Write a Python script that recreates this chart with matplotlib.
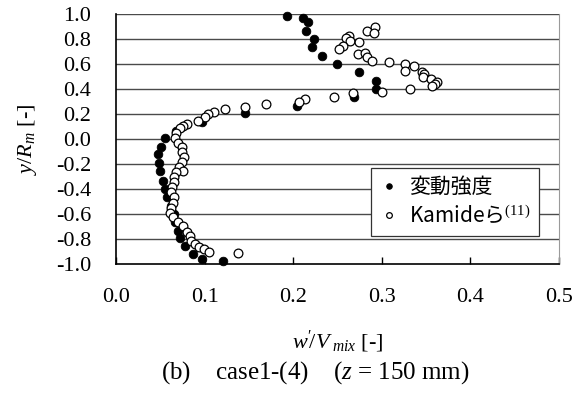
import matplotlib
matplotlib.use("Agg")
import matplotlib.pyplot as plt
from matplotlib.font_manager import FontProperties

plt.rcParams["font.family"] = ["Liberation Serif", "DejaVu Serif"]
plt.rcParams["mathtext.fontset"] = "custom"
plt.rcParams["mathtext.rm"] = "Liberation Serif"
plt.rcParams["mathtext.it"] = "Liberation Serif:italic"

# -- data: (w'/V_mix, y/R_m) --
fluct_x = [0.193, 0.211, 0.217, 0.214, 0.224, 0.221, 0.233, 0.249, 0.274, 0.293,
           0.293, 0.269, 0.204, 0.146, 0.097, 0.068, 0.055, 0.051, 0.047, 0.048,
           0.050, 0.053, 0.055, 0.058, 0.062, 0.065, 0.067, 0.070, 0.072, 0.078,
           0.087, 0.097, 0.121]
fluct_y = [0.99, 0.97, 0.94, 0.87, 0.80, 0.74, 0.67, 0.60, 0.54, 0.47,
           0.40, 0.34, 0.27, 0.21, 0.14, 0.07, 0.01, -0.06, -0.12, -0.19,
           -0.25, -0.33, -0.40, -0.46, -0.53, -0.60, -0.66, -0.73, -0.79, -0.85,
           -0.92, -0.96, -0.97]

kamide_x = [0.283, 0.292, 0.291, 0.263, 0.260, 0.264, 0.256, 0.252, 0.274, 0.273,
            0.281, 0.283, 0.289, 0.308, 0.326, 0.326, 0.336, 0.345, 0.348, 0.347,
            0.356, 0.362, 0.360, 0.357, 0.332, 0.300, 0.268, 0.246, 0.213, 0.207,
            0.169, 0.146, 0.123, 0.111, 0.104, 0.100, 0.093, 0.080, 0.076, 0.072,
            0.068, 0.067, 0.070, 0.074, 0.075, 0.077, 0.074, 0.071, 0.076, 0.068,
            0.066, 0.065, 0.063, 0.062, 0.065, 0.064, 0.062, 0.061, 0.064, 0.070,
            0.076, 0.080, 0.083, 0.085, 0.089, 0.094, 0.099, 0.105, 0.138]
kamide_y = [0.87, 0.90, 0.85, 0.83, 0.81, 0.79, 0.75, 0.72, 0.78, 0.68,
            0.69, 0.66, 0.63, 0.62, 0.60, 0.55, 0.59, 0.54, 0.52, 0.50,
            0.48, 0.46, 0.44, 0.43, 0.40, 0.38, 0.37, 0.34, 0.32, 0.30,
            0.28, 0.26, 0.24, 0.22, 0.20, 0.18, 0.15, 0.12, 0.11, 0.09,
            0.05, 0.01, -0.03, -0.06, -0.10, -0.14, -0.18, -0.22, -0.25, -0.26,
            -0.30, -0.34, -0.38, -0.42, -0.46, -0.51, -0.55, -0.59, -0.62, -0.66,
            -0.69, -0.74, -0.77, -0.81, -0.84, -0.86, -0.88, -0.90, -0.91]

x_ticks = [0.0, 0.1, 0.2, 0.3, 0.4, 0.5]
y_ticks = [-1.0, -0.8, -0.6, -0.4, -0.2, 0.0, 0.2, 0.4, 0.6, 0.8, 1.0]

fig = plt.figure(figsize=(5.78, 3.96), dpi=100)
ax = fig.add_axes([0.2007, 0.3326, 0.7664, 0.6313])

# -- horizontal grid --
for yv in y_ticks[1:]:
    ax.axhline(yv, color="#4a4a4a", lw=1.0, zorder=1)

ax.plot(fluct_x, fluct_y, "o", color="black", ms=6.2, mew=0.6,
        label="変動強度", zorder=3, clip_on=False)
ax.plot(kamide_x, kamide_y, "o", mfc="white", mec="black", ms=6.3, mew=0.9,
        label="Kamideら$^{(11)}$", zorder=4, clip_on=False)

ax.set_xlim(0, 0.5)
ax.set_ylim(-1, 1)
ax.set_xticks(x_ticks)
ax.set_xticklabels([f"{v:.1f}" for v in x_ticks])
ax.set_yticks(y_ticks)
ax.set_yticklabels([f"{v:.1f}" for v in y_ticks])
ax.tick_params(axis="x", direction="in", length=5, width=1, labelsize=16, pad=17)
ax.tick_params(axis="y", length=0, labelsize=16, pad=18)

for side in ("left", "bottom"):
    ax.spines[side].set_color("black")
    ax.spines[side].set_linewidth(1.2)
ax.spines["top"].set_visible(False)
ax.spines["right"].set_color("#9a9a9a")

ax.set_xlabel(r"$w^{\prime}\!/V_{\ mix}$ [-]", fontsize=16, labelpad=16)
ax.set_ylabel(r"$y/R_m$ [-]", fontsize=16, labelpad=12)

leg = ax.legend(loc="upper left", bbox_to_anchor=(0.575, 0.386), borderaxespad=0,
                prop=FontProperties(family=["Noto Sans CJK JP", "DejaVu Sans"], size=15),
                markerscale=0.65, handlelength=1.0, handletextpad=0.45,
                labelspacing=0.35, borderpad=0.4, fancybox=False, framealpha=1)
leg.get_frame().set_edgecolor("#333333")
leg.get_frame().set_linewidth(0.9)

fig.text(0.545, 0.058, r"(b)    case1-(4)    ($z$ = 150 mm)", ha="center",
         va="center", fontsize=18)

fig.savefig("out.png", dpi=100)
